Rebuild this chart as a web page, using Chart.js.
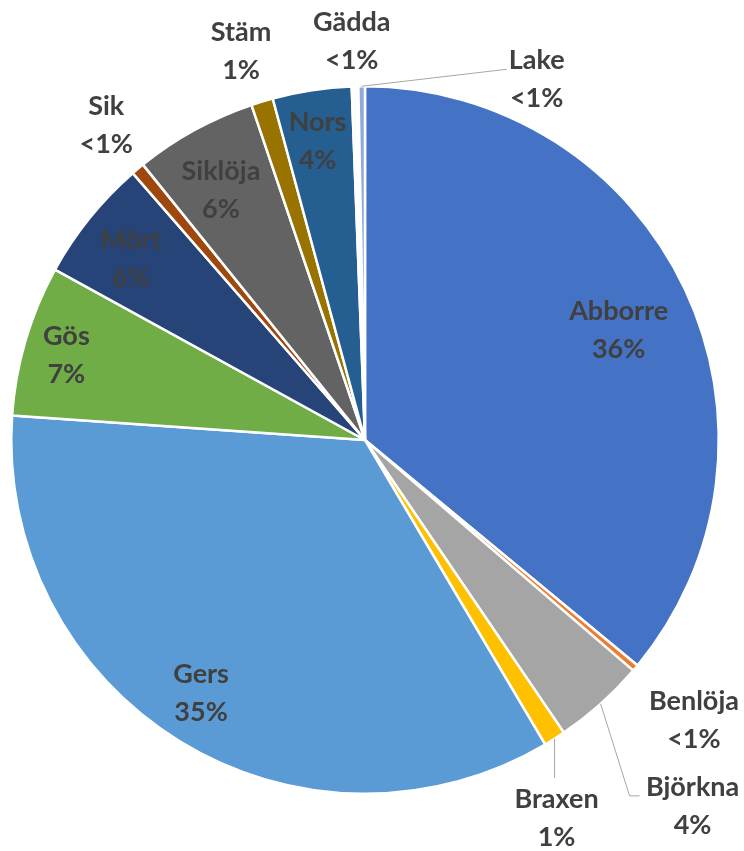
<!DOCTYPE html>
<html>
<head>
<meta charset="utf-8">
<script src="https://cdn.jsdelivr.net/npm/chart.js@4"></script>
<style>
  html, body { margin: 0; padding: 0; background: #fff; }
  #wrap { width: 744px; height: 851px; }
</style>
</head>
<body>
<div id="wrap"><canvas id="pie" width="744" height="851"></canvas></div>
<script>
    // Artfördelning (andel i procent), medurs från toppen
    const species = ['Abborre', 'Benlöja', 'Björkna', 'Braxen', 'Gers', 'Gös', 'Mört', 'Sik', 'Siklöja', 'Stäm', 'Nors', 'Gädda', 'Lake'];
    const shares = [36.0, 0.3, 4.2, 1.0, 34.6, 6.9, 5.6, 0.6, 5.6, 1.0, 3.6, 0.3, 0.3];
    const sliceColors = ['#4472C4', '#ED7D31', '#A5A5A5', '#FFC000', '#5B9BD5', '#70AD47', '#264478', '#9E480E', '#636363', '#997300', '#255E91', '#FFFFFF', '#8FAADC'];

    // label placement: radial factor of the slice mid angle, then a nudge; optional leader points (relative to label)
    const labelPlace = [
        { f: 0.78, dx: 4, dy: 8 },
        { f: 1.22, dx: -1, dy: 2 },
        { f: 1, dx: 92, dy: 102, leader: [[-63, -10], [-53, -10]] },
        { f: 1, dx: 2, dy: 80, leader: [[-2, -41]] },
        { f: 0.85, dx: -6, dy: -3 },
        { f: 0.88, dx: 0, dy: 3 },
        { f: 0.836, dx: -4, dy: 5 },
        { f: 1.152, dx: 3, dy: -2 },
        { f: 0.816, dx: -5, dy: 3 },
        { f: 1.155, dx: -5, dy: 2 },
        { f: 0.855, dx: -2, dy: 0 },
        { f: 1.127, dx: -2, dy: 0 },
        { f: 1, dx: 175, dy: -7, leader: [[-30, -10]] }
    ];

    function pctText(v) {
        return v < 1 ? '<1%' : Math.round(v) + '%';
    }

    const sliceLabels = {
        id: 'sliceLabels',
        afterDatasetsDraw(chart) {
            const ctx = chart.ctx;
            const arcs = chart.getDatasetMeta(0).data;
            ctx.save();
            ctx.font = 'bold 27px Lato, "Open Sans", sans-serif';
            ctx.textAlign = 'center';
            ctx.textBaseline = 'middle';
            arcs.forEach((arc, i) => {
                const p = arc.getProps(['x', 'y', 'startAngle', 'endAngle', 'outerRadius'], true);
                const mid = (p.startAngle + p.endAngle) / 2;
                const pl = labelPlace[i];
                const lx = p.x + Math.cos(mid) * p.outerRadius * pl.f + pl.dx;
                const ly = p.y + Math.sin(mid) * p.outerRadius * pl.f + pl.dy;
                if (pl.leader) {
                    ctx.strokeStyle = '#A6A6A6';
                    ctx.lineWidth = 1;
                    ctx.beginPath();
                    ctx.moveTo(p.x + Math.cos(mid) * p.outerRadius, p.y + Math.sin(mid) * p.outerRadius);
                    pl.leader.forEach(pt => ctx.lineTo(lx + pt[0], ly + pt[1]));
                    ctx.stroke();
                }
                ctx.fillStyle = '#404040';
                ctx.fillText(species[i], lx, ly - 19);
                ctx.fillText(pctText(shares[i]), lx, ly + 19);
            });
            ctx.restore();
        }
    };

    const ctx = document.getElementById('pie').getContext('2d');
    new Chart(ctx, {
        type: 'pie',
        data: { labels: species, datasets: [{ data: shares, backgroundColor: sliceColors, borderColor: '#FFFFFF', borderWidth: 2.5 }] },
        options: {
            responsive: false,
            animation: false,
            layout: { padding: { left: 10, right: 24, top: 85, bottom: 56 } },
            plugins: { legend: { display: false }, tooltip: { enabled: false } }
        },
        plugins: [sliceLabels]
    });
</script>
</body>
</html>
